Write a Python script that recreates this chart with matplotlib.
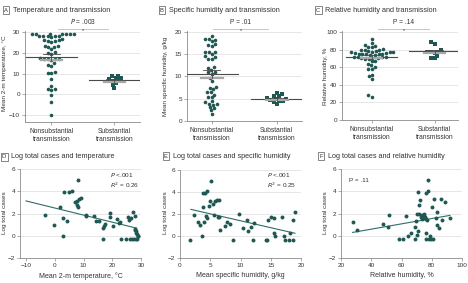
import matplotlib
matplotlib.use("Agg")
import matplotlib.pyplot as plt
import seaborn as sns

W, H = 468, 283
plt.rcParams['font.family'] = ['Liberation Sans Narrow', 'Liberation Sans', 'DejaVu Sans']
plt.rcParams['font.size'] = 4.6

DOT = '#1f5853'
LINE = '#2f6d68'
GRID = '#dcdcdc'
SPINE = '#8a8a8a'
TXT = '#333333'

groups = ['Nonsubstantial\ntransmission', 'Substantial\ntransmission']

# --- A: temperature by group
temp_nonsub = [29.1, 29.2, 28.9, 28.9, 28.8, 29.0, 28.9,
               27.9, 27.6, 27.9, 27.8, 27.9, 28.0,
               26.3, 26.0, 25.5, 25.0, 26.5, 25.8,
               23.0, 22.8, 22.5, 21.8, 23.3,
               20.3, 19.8, 19.6,
               17.2, 17.0, 16.8, 17.0, 16.7, 17.3, 15.0,
               14.0, 13.8, 10.8, 10.5, 10.3, 7.5, 4.0, 2.7, 2.5, 1.9, -0.3, -3.8, -10.0]
temp_sub = [9.0, 8.0, 5.6, 7.2, 3.0, 6.8, 4.6, 7.8, 8.7, 6.6]
temp_mean = [18.1, 6.8]
temp_se = [1.5, 0.6]

# --- B: specific humidity by group
sh_nonsub = [19.0, 18.4, 18.1, 18.5, 17.9, 17.3, 16.8, 17.1,
             15.0, 15.5, 15.5, 15.5, 14.3, 14.0, 14.0, 14.5,
             11.8, 11.5, 12.1, 10.6, 11.0, 11.1,
             9.6, 8.9, 7.7, 7.5, 7.1, 6.4, 6.4, 5.9, 5.3, 5.3,
             4.4, 4.2, 3.9, 3.9, 3.7, 3.2, 2.9, 2.4, 1.6]
sh_sub = [4.9, 4.7, 5.5, 5.1, 6.2, 5.6, 6.0, 3.8, 4.3, 4.6, 4.9, 4.4]
sh_mean = [10.5, 4.9]
sh_se = [0.9, 0.25]

# --- C: relative humidity by group
rh_nonsub = [92, 87, 84.8, 84.4, 82.5, 82.5, 81, 79.8, 79, 79, 78.3, 78, 77.6, 77.2,
             76.8, 76.8, 76, 76, 75.3, 75.3, 74.5, 74.5, 74.5, 73.8, 73.8, 71.5, 71.1,
             71.1, 71.1, 70.7, 70.3, 70, 69.6, 69.2, 67.5, 66.5, 63.5, 62.4, 60.5, 58.2,
             58.2, 51.3, 49.4, 46.8, 28.5, 26.6]
rh_sub = [86.7, 88.2, 73, 70, 70.7, 77.6, 77.6, 77.6, 79.8, 76]
rh_mean = [71.5, 77.8]
rh_se = [1.7, 1.8]

# --- D: log cases vs temperature
temp_D = [-3.5, -0.1, 2.75, 2.75, 1.9, 3.2, 4.3, 5.0, 5.9, 8.2, 7.2, 7.6, 8.2, 7.9, 8.6,
          9.1, 10.75, 11.0, 13.8, 14.4, 15.3, 16.7, 16.9, 17.1, 17.4, 19.3, 19.3, 20.3,
          21.5, 22.5, 22.7, 23.0, 24.8, 25.6, 25.8, 26.5, 27.2, 27.8, 26.2, 26.9, 27.6,
          28.1, 27.9, 28.3, 28.5, 28.8, 28.6, 28.0, 28.4, 29.1]
logc_D = [1.9, 0.98, 0.0, 1.6, 2.6, 3.9, 1.35, 3.9, 4.06, 4.98, 3.0, 2.75, 2.55, 3.15, 3.3,
          3.35, 1.9, 1.75, 1.75, 1.37, 1.37, -0.33, 0.7, 0.9, 1.07, 2.07, 1.68, 0.85,
          1.52, 1.16, 1.28, -0.33, -0.33, 1.7, 1.46, 1.6, 2.14, 1.77, -0.33, -0.33, -0.33,
          -0.33, 0.64, 0.4, 0.15, -0.03, -0.33, 0.49, 0.24, 0.0]
fit_x_D = [-10, 28.5]
fit_y_D = [3.13, 0.68]

# --- E: log cases vs specific humidity
sh_E = [1.7, 2.37, 2.9, 3.25, 3.7, 3.75, 3.9, 3.85, 4.2, 4.5, 4.35, 4.4, 4.74, 5.1, 4.96,
        5.4, 5.7, 5.84, 6.17, 6.5, 6.2, 6.5, 6.56, 7.4, 7.7, 8.2, 8.7, 9.75, 10.36, 11.0,
        11.24, 11.7, 12.07, 12.2, 14.16, 14.4, 14.5, 15.1, 15.6, 15.6, 15.65, 16.9, 17.2,
        17.4, 18.07, 18.2, 18.6, 18.6, 19.0]
logc_E = [-0.33, 1.9, 1.31, 1.0, 0.0, 2.6, 1.31, 3.94, 3.94, 4.06, 1.86, 1.62, 2.72, 4.98,
          3.2, 2.9, 1.92, 3.15, 3.27, 3.27, 1.77, 1.77, 0.58, 0.92, 1.31, 1.07, -0.33, 2.0,
          0.73, 1.5, 0.46, 0.82, -0.33, 1.19, -0.33, -0.33, 1.5, 1.77, 1.62, 0.24, 0.0,
          1.71, 0.0, -0.33, -0.33, 0.24, -0.33, 1.46, 2.14]
fit_x_E = [1.8, 19.0]
fit_y_E = [2.42, 0.25]

# --- F: log cases vs relative humidity
rh_F = [27.7, 30.4, 47.5, 50.8, 51.9, 58.5, 61, 63.2, 64.3, 66, 68.9, 69.6, 69.1, 70.4,
        70.9, 70.7, 71.3, 72.2, 70.2, 71.8, 72.6, 73.3, 73.5, 74.6, 74.2, 75.3, 75.9,
        76.4, 77.3, 77.5, 76.2, 76.2, 77, 77.9, 78.8, 79.2, 80.6, 79.9, 81.5, 83, 83.7,
        83.2, 84.8, 85.9, 86.7, 88.5, 92, 74.8]
logc_F = [1.28, 0.55, 1.07, 0.82, 1.86, -0.33, -0.33, 1.77, -0.03, 0.27, 0.82, 1.31,
          -0.33, 0.03, 0.46, 3.94, 2.78, 3.18, 2.0, 1.92, 1.68, 1.53, 1.86, 1.77, 1.62,
          1.68, 1.53, 3.88, 4.06, 4.98, 0.24, -0.33, 1.4, -0.33, 0.0, -0.33, -0.33, 2.6,
          3.3, 1.59, 2.17, 1.0, 0.7, 3.3, 1.46, 3.0, 1.62, 2.0]
fit_x_F = [27.7, 92]
fit_y_F = [0.3, 1.83]

fig = plt.figure(figsize=(W / 100, H / 100), dpi=100)


def axes_px(left, top, right, bottom):
    return fig.add_axes([left / W, 1 - bottom / H, (right - left) / W, (bottom - top) / H])


def style(ax):
    for s in ['top', 'right']:
        ax.spines[s].set_visible(False)
    for s in ['left', 'bottom']:
        ax.spines[s].set_color(SPINE)
        ax.spines[s].set_linewidth(0.6)
    ax.tick_params(length=2, width=0.5, color=SPINE, labelsize=4.6, labelcolor=TXT, pad=1.5)
    ax.grid(axis='y', color=GRID, linewidth=0.5)
    ax.set_axisbelow(True)
    ax.set_xlabel('')
    ax.set_ylabel('')


def title(x, y, letter, text):
    fig.text(x / W, 1 - y / H, letter, fontsize=4.2, color=TXT, ha='left', va='center',
             bbox=dict(boxstyle='square,pad=0.25', fc='white', ec='#555555', lw=0.5))
    fig.text((x + 9) / W, 1 - y / H, text, fontsize=5.2, color=TXT, ha='left', va='center')


def ptext(x, y, s, **kw):
    fig.text(x / W, 1 - y / H, s, color=TXT, **kw)


def group_panel(ax, nonsub, sub, mean, se, ylim, yticks, xlim):
    ax.set_ylim(*ylim)
    sns.swarmplot(x=[groups[0]] * len(nonsub), y=nonsub, order=groups, ax=ax,
                  color=DOT, size=2.6, marker='o', linewidth=0, zorder=3, warn_thresh=1)
    sns.swarmplot(x=[groups[1]] * len(sub), y=sub, order=groups, ax=ax,
                  color=DOT, size=2.6, marker='s', linewidth=0, zorder=3, warn_thresh=1)
    for i in range(2):
        ax.plot([i - 0.4, i + 0.4], [mean[i], mean[i]], color='#4a4a4a', lw=0.8, zorder=4)
        ax.plot([i - 0.17, i + 0.17], [mean[i] - se[i]] * 2, color='#a8a8a8', lw=1.6, zorder=4)
        ax.plot([i - 0.13, i + 0.13], [mean[i] + se[i]] * 2, color='#4a4a4a', lw=0.6, zorder=4)
        ax.plot([i, i], [mean[i] - se[i], mean[i] + se[i]], color='#4a4a4a', lw=0.6, zorder=4)
    ax.set_ylim(*ylim)
    ax.set_yticks(yticks)
    ax.set_xlim(*xlim)
    style(ax)
    ax.tick_params(axis='x', pad=2, labelsize=4.8)


# ---- top row
axA = axes_px(25, 31, 140, 122)
group_panel(axA, temp_nonsub, temp_sub, temp_mean, temp_se, (-13.2, 30.4),
            [-10, 0, 10, 20, 30], (-0.42, 1.41))
axB = axes_px(187, 31, 302, 121)
group_panel(axB, sh_nonsub, sh_sub, sh_mean, sh_se, (0, 20.2),
            [0, 5, 10, 15, 20], (-0.38, 1.39))
axC = axes_px(342, 31, 458, 120)
group_panel(axC, rh_nonsub, rh_sub, rh_mean, rh_se, (0, 101),
            [0, 20, 40, 60, 80, 100], (-0.47, 1.37))

title(4, 10, 'A', 'Temperature and transmission')
title(160, 10, 'B', 'Specific humidity and transmission')
title(316, 10, 'C', 'Relative humidity and transmission')

fig.text(5 / W, 1 - 73 / H, 'Mean 2-m temperature, °C', rotation=90, ha='center', va='center', color=TXT)
fig.text(165 / W, 1 - 76 / H, 'Mean specific humidity, g/kg', rotation=90, ha='center', va='center', color=TXT)
fig.text(325 / W, 1 - 76 / H, 'Relative humidity, %', rotation=90, ha='center', va='center', color=TXT)

# significance brackets
for x0, x1, s in [(58, 108, '$P$ = .003'), (213, 268, 'P = .01'), (378, 429, 'P = .14')]:
    fig.add_artist(plt.Line2D([x0 / W, x1 / W], [1 - 29 / H] * 2, color='#bdbdbd', lw=0.6))
    ptext((x0 + x1) / 2, 22, s, ha='center', va='center', fontsize=4.8)
    ptext((x0 + x1) / 2, 30.5, '*', ha='center', va='center', fontsize=4)

# ---- bottom row
def scatter_panel(ax, x, y, fx, fy, xlim, xticks, xlabel):
    ax.scatter(x, y, s=8, color=DOT, linewidths=0, zorder=3)
    ax.plot(fx, fy, color=LINE, lw=0.8, zorder=2)
    ax.set_xlim(*xlim)
    ax.set_xticks(xticks)
    ax.set_ylim(-2, 6)
    ax.set_yticks([-2, 0, 2, 4, 6])
    style(ax)
    ax.set_xlabel(xlabel, fontsize=5.0, color=TXT, labelpad=3)


axD = axes_px(20, 169, 141, 258)
scatter_panel(axD, temp_D, logc_D, fit_x_D, fit_y_D, (-12.1, 30), [-10, 0, 10, 20, 30],
              'Mean 2-m temperature, °C')
axE = axes_px(180, 170, 301, 258)
scatter_panel(axE, sh_E, logc_E, fit_x_E, fit_y_E, (0, 20), [0, 5, 10, 15, 20],
              'Mean specific humidity, g/kg')
axF = axes_px(341, 169, 462, 258)
scatter_panel(axF, rh_F, logc_F, fit_x_F, fit_y_F, (20, 100), [20, 40, 60, 80, 100],
              'Relative humidity, %')

title(2, 157, 'D', 'Log total cases and temperature')
title(164, 156, 'E', 'Log total cases and specific humidity')
title(319, 156, 'F', 'Log total cases and relative humidity')

for x in [5, 165, 326]:
    fig.text(x / W, 1 - 213 / H, 'Log total cases', rotation=90, ha='center', va='center', color=TXT)

ptext(110, 175, '$P$ <.001', fontsize=4.6, ha='left', va='center')
ptext(110, 185, '$R^2$ = 0.26', fontsize=4.6, ha='left', va='center')
ptext(267, 175, '$P$ <.001', fontsize=4.6, ha='left', va='center')
ptext(267, 185, '$R^2$ = 0.25', fontsize=4.6, ha='left', va='center')
ptext(349, 181, 'P = .11', fontsize=4.6, ha='left', va='center')

fig.savefig('out.png', dpi=100, facecolor='white')
